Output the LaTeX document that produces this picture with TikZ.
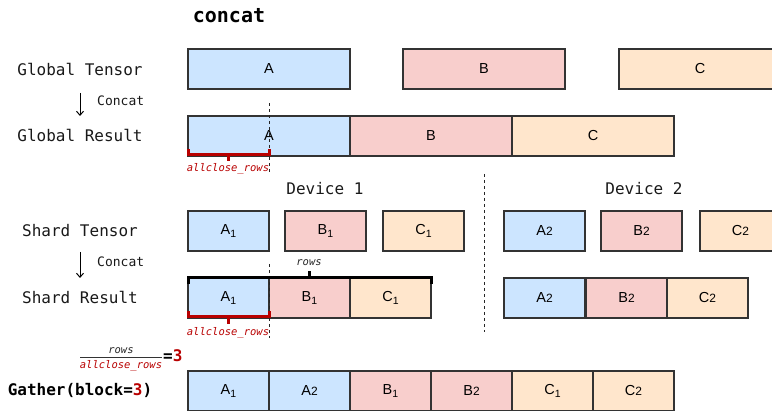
\documentclass[tikz,border=0pt]{standalone}
\usepackage{fontspec}
\setmainfont{Liberation Sans}
\newfontfamily\dmono{DejaVu Sans Mono}
\usetikzlibrary{arrows.meta,calc}
\definecolor{cblue}{HTML}{CCE5FF}
\definecolor{cred}{HTML}{F8CECC}
\definecolor{corange}{HTML}{FFE6CC}
\definecolor{dred}{HTML}{B80000}
\newcommand{\myone}[1]{#1\raisebox{-3.5pt}{\fontsize{10.5}{10}\selectfont 1}}
\newcommand{\mytwo}[1]{#1{\fontsize{12}{12}\selectfont 2}}
\begin{document}
\begin{tikzpicture}[x=1pt,y=-1pt,
 cell/.style={draw=black!80, line width=1.1pt, minimum height=40pt, inner sep=0pt, outer sep=0pt, anchor=north west, font=\fontsize{14.5}{15}\selectfont},
 wide/.style={cell, minimum width=162pt},
 half/.style={cell, minimum width=81pt},
 lbl/.style={font=\dmono\fontsize{16}{17}\selectfont, inner sep=0pt, text=black!90},
 small/.style={font=\dmono\fontsize{13}{14}\selectfont, inner sep=0pt, text=black!90},
 tiny/.style={font=\dmono\itshape\fontsize{10.5}{11}\selectfont, inner sep=0pt},
 dashln/.style={draw=black!85, line width=1pt, dash pattern=on 3pt off 3pt},
 redbr/.style={draw=dred, line width=3pt},
 blkbr/.style={draw=black, line width=3pt},
 arr/.style={draw=black, line width=1pt, -{Straight Barb[length=4pt,width=7pt]}}
]
\useasboundingbox (0,0) rectangle (772,411);

% title
\node[font=\dmono\bfseries\fontsize{20}{22}\selectfont, inner sep=0pt] (title) at (229,16) {concat};

% left labels
\node[lbl] (lgt) at (80,69) {Global Tensor};
\node[lbl] (lgr) at (80,135) {Global Result};
\node[lbl] (lst) at (80,231) {Shard Tensor};
\node[lbl] (lsr) at (80,297) {Shard Result};
\coordinate (a1s) at (80,93);
\coordinate (a1e) at (80,116);
\coordinate (a2s) at (80,252);
\coordinate (a2e) at (80,278);
\draw[arr] (a1s) -- (a1e);
\draw[arr] (a2s) -- (a2e);
\node[small, anchor=west] (c1) at (97,101) {Concat};
\node[small, anchor=west] (c2) at (97,262) {Concat};

% Global tensor
\node[wide, fill=cblue] (gtA) at (188,49) {A};
\node[wide, fill=cred] (gtB) at (403,49) {B};
\node[wide, fill=corange] (gtC) at (619,49) {C};
% Global result
\node[wide, fill=cblue] (grA) at (188,116) {A};
\node[wide, fill=cred] (grB) at (350,116) {B};
\node[wide, fill=corange] (grC) at (512,116) {C};

% devices
\node[lbl] (dev1) at (325,189) {Device 1};
\node[lbl] (dev2) at (644,189) {Device 2};
\coordinate (dvt) at (484,174);
\coordinate (dvb) at (484,332);
\draw[dashln] (dvt) -- (dvb);

% shard tensor
\node[half, fill=cblue] (stA1) at (188,211) {\myone{A}};
\node[half, fill=cred] (stB1) at (285,211) {\myone{B}};
\node[half, fill=corange] (stC1) at (383,211) {\myone{C}};
\node[half, fill=cblue] (stA2) at (504,211) {\mytwo{A}};
\node[half, fill=cred] (stB2) at (601,211) {\mytwo{B}};
\node[half, fill=corange] (stC2) at (700,211) {\mytwo{C}};

% shard result
\node[half, fill=cblue] (srA1) at (188,278) {\myone{A}};
\node[half, fill=cred] (srB1) at (269,278) {\myone{B}};
\node[half, fill=corange] (srC1) at (350,278) {\myone{C}};
\node[half, fill=cblue] (srA2) at (504,278) {\mytwo{A}};
\node[half, fill=cred] (srB2) at (586,278) {\mytwo{B}};
\node[half, fill=corange] (srC2) at (667,278) {\mytwo{C}};

% gather
\node[half, fill=cblue] (gA1) at (188,371) {\myone{A}};
\node[half, fill=cblue] (gA2) at (269,371) {\mytwo{A}};
\node[half, fill=cred] (gB1) at (350,371) {\myone{B}};
\node[half, fill=cred] (gB2) at (431,371) {\mytwo{B}};
\node[half, fill=corange] (gC1) at (512,371) {\myone{C}};
\node[half, fill=corange] (gC2) at (593,371) {\mytwo{C}};

% dashed lines at allclose boundary
\coordinate (dt1) at (269,103);
\coordinate (db1) at (269,173);
\draw[dashln] (dt1) -- (db1);
\coordinate (dt2) at (269,264);
\coordinate (db2) at (269,338);
\draw[dashln] (dt2) -- (db2);

% red bracket global
\coordinate (rb1l) at (188,155);
\coordinate (rb1r) at (269,155);
\coordinate (rb1m) at (228,155);
\draw[redbr] ($(rb1l)+(0,-6)$) -- (rb1l) -- (rb1r) -- ($(rb1r)+(0,-6)$);
\draw[redbr] (rb1m) -- ++(0,6);
\node[tiny, text=dred] (ac1) at (228,169) {allclose\_rows};

% black bracket shard result
\coordinate (bbl) at (188,278);
\coordinate (bbr) at (431,278);
\coordinate (bbm) at (309,278);
\draw[blkbr] ($(bbl)+(0,6)$) -- (bbl) -- (bbr) -- ($(bbr)+(0,6)$);
\draw[blkbr] (bbm) -- ++(0,-7);
\node[tiny, text=black!85] (rw1) at (309,263) {rows};

% red bracket shard result
\coordinate (rb2l) at (188,317);
\coordinate (rb2r) at (269,317);
\coordinate (rb2m) at (228,317);
\draw[redbr] ($(rb2l)+(0,-6)$) -- (rb2l) -- (rb2r) -- ($(rb2r)+(0,-6)$);
\draw[redbr] (rb2m) -- ++(0,7);
\node[tiny, text=dred] (ac2) at (228,333) {allclose\_rows};

% fraction
\node[tiny, text=black!85] (frn) at (121,351) {rows};
\coordinate (fl) at (80,358);
\coordinate (fr) at (162,358);
\draw[black!80, line width=1pt] (fl) -- (fr);
\node[tiny, text=dred] (frd) at (121,366) {allclose\_rows};
\node[font=\dmono\bfseries\fontsize{16}{17}\selectfont, inner sep=0pt, anchor=west] (eq) at (163,356) {=\textcolor{dred}{3}};

\node[font=\dmono\bfseries\fontsize{16}{17}\selectfont, inner sep=0pt] (gat) at (80,390) {Gather(block=\textcolor{dred}{3})};
\end{tikzpicture}
\end{document}
